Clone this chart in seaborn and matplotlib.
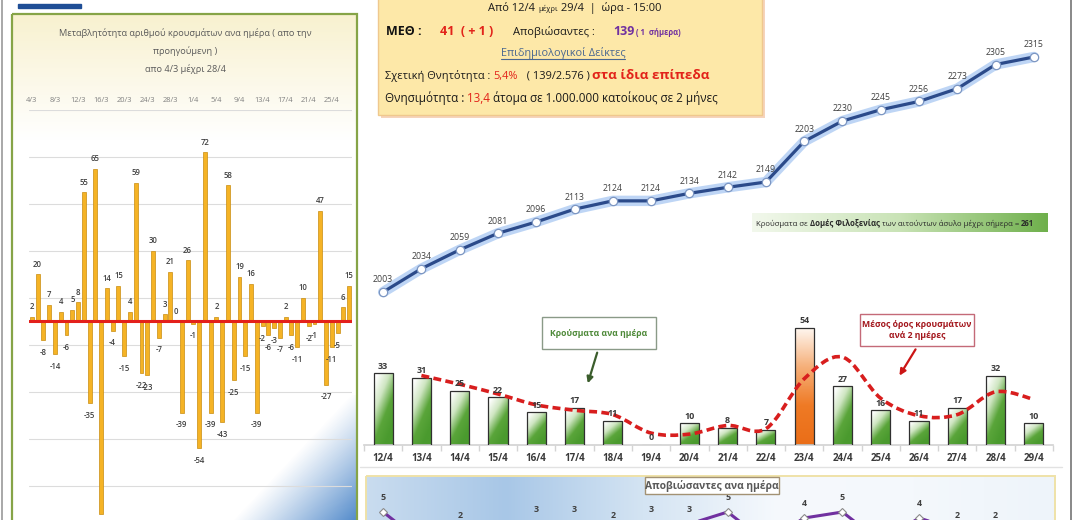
import numpy as np
import pandas as pd
import matplotlib
matplotlib.use("Agg")
import matplotlib.pyplot as plt
import seaborn as sns
from matplotlib.patches import Rectangle, PathPatch
from matplotlib.path import Path
from matplotlib.colors import LinearSegmentedColormap

# ---------------- data ----------------
var_dates = [f"{d}/3" for d in range(4, 32)] + [f"{d}/4" for d in range(1, 29)]
var_values = [2, 20, -8, 7, -14, 4, -6, 5, 8, 55, -35, 65, -82, 14, -4, 15, -15, 4, 59, -22,
              -23, 30, -7, 3, 21, 0, -39, 26, -1, -54, 72, -39, 2, -43, 58, -25, 19, -15, 16, -39,
              -2, -6, -3, -7, 2, -6, -11, 10, -2, -1, 47, -27, -11, -5, 6, 15]

days = ["12/4", "13/4", "14/4", "15/4", "16/4", "17/4", "18/4", "19/4", "20/4",
        "21/4", "22/4", "23/4", "24/4", "25/4", "26/4", "27/4", "28/4", "29/4"]
cumulative = [2003, 2034, 2059, 2081, 2096, 2113, 2124, 2124, 2134, 2142, 2149, 2203,
              2230, 2245, 2256, 2273, 2305, 2315]
daily_cases = [33, 31, 25, 22, 15, 17, 11, 0, 10, 8, 7, 54, 27, 16, 11, 17, 32, 10]
avg_2days = [np.nan, 32, 28, 23.5, 18.5, 16, 14, 5.5, 5, 9, 7.5, 30.5, 40.5, 21.5, 13.5, 14, 24.5, 21]
deaths = [5, 0, 2, 1, 3, 3, 2, 3, 3, 5, 0, 4, 5, 0, 4, 2, 2, 1]
highlight_day = "23/4"

# ---------------- setup ----------------
W, H = 1075, 520
sns.set_theme(style="white")
plt.rcParams["font.family"] = ["Open Sans", "DejaVu Sans"]
fig = plt.figure(figsize=(W / 100, H / 100), dpi=100)
fig.patch.set_facecolor("white")


def px_ax(l, t, r, b, z=1):
    a = fig.add_axes([l / W, 1 - b / H, (r - l) / W, (b - t) / H], zorder=z)
    a.patch.set_alpha(0)
    return a


def gradient(ax, x0, y0, x1, y1, colors, mode="h", zorder=0, clip=None):
    n = 128
    xn = np.linspace(0, 1, n)[None, :] * np.ones((n, 1))
    yn = np.linspace(0, 1, n)[:, None] * np.ones((1, n))
    if mode == "h":
        t = xn
    elif mode == "v":
        t = yn
    else:
        t = np.clip(0.55 * xn + 0.8 * yn - 0.1, 0, 1)
    cmap = LinearSegmentedColormap.from_list("g", colors)
    im = ax.imshow(t, cmap=cmap, vmin=0, vmax=1, extent=(x0, x1, y1, y0), origin="upper",
                   aspect="auto", zorder=zorder, interpolation="bilinear")
    if clip is not None:
        im.set_clip_path(clip)
    return im


bg = px_ax(0, 0, W, H, 0)
bg.set_xlim(0, W); bg.set_ylim(H, 0); bg.axis("off")
fg = px_ax(0, 0, W, H, 10)
fg.set_xlim(0, W); fg.set_ylim(H, 0); fg.axis("off")


def visible_y(ax, x, y):
    """True if data point (x, y) of ax lands inside the figure."""
    disp = ax.transData.transform((x, y))
    return 4 <= disp[1] <= H - 4


# ---------------- left panel decoration ----------------
bg.add_patch(Rectangle((18, 4), 63, 4, color="#1f4e96", zorder=2))
bg.plot([1.5, 1.5], [0, H], color="#9a9a9a", lw=1.2, zorder=2)
gradient(bg, 12, 14, 357, 140, ["#f8f1cf", "#ffffff"], mode="v", zorder=0)
n = 128
xn = np.linspace(0, 1, n)[None, :]
yn = np.linspace(0, 1, n)[:, None]
alpha = np.clip((xn + yn - 0.95) / 1.05, 0, 1) ** 1.1
rgba = np.zeros((n, n, 4))
rgba[..., 0] = 0.24; rgba[..., 1] = 0.49; rgba[..., 2] = 0.77
rgba[..., 3] = alpha
bg.imshow(rgba, extent=(225, 357, 535, 395), origin="upper", aspect="auto", zorder=1,
          interpolation="bilinear")
bg.add_patch(Rectangle((12, 14), 345, 520, fill=False, ec="#86a447", lw=1.6, zorder=3))

title_lines = ["Μεταβλητότητα αριθμού κρουσμάτων ανα ημέρα ( απο την", "προηγούμενη )",
               "απο 4/3 μέχρι 28/4"]
for k, line in enumerate(title_lines):
    fg.text(185, 33 + 18 * k, line, ha="center", va="center", fontsize=6.6, color="#5a5a5a")

# ---------------- left bar chart ----------------
ax_l = px_ax(29, 110, 352, 532.5, 2)
sns.barplot(x=var_dates, y=var_values, ax=ax_l, color="#f5b325", edgecolor="#c98d10",
            linewidth=0.5, width=0.68, saturation=1, zorder=2)
ax_l.set_xlim(-0.5, len(var_dates) - 0.5)
ax_l.set_ylim(-90, 90)
ax_l.set_yticks(np.arange(-90, 91, 20))
ax_l.yaxis.grid(True, color="#dcdcdc", lw=0.8, zorder=0)
ax_l.set_axisbelow(True)
ax_l.tick_params(axis="y", left=False, labelleft=False)
ax_l.xaxis.tick_top()
ax_l.set_xticks(range(0, len(var_dates), 4))
ax_l.set_xticklabels(var_dates[::4])
ax_l.tick_params(axis="x", length=0, labelsize=5.4, labelcolor="#808080", pad=4)
ax_l.set_xlabel(""); ax_l.set_ylabel("")
for s in ax_l.spines.values():
    s.set_visible(False)
ax_l.axhline(0, color="#e3201b", lw=2.2, zorder=3)
for i, v in enumerate(var_values):
    off = 4.3 if v >= 0 else -5.2
    if visible_y(ax_l, i, v + off):
        ax_l.text(i, v + off, str(v), ha="center", va="center", fontsize=5.6,
                  color="#404040", fontweight="semibold", clip_on=False)

# ---------------- cumulative line ----------------
x_idx = np.arange(len(days))
ax_c = px_ax(364, 20, 1053, 300, 2)
df_c = pd.DataFrame({"i": x_idx, "v": cumulative})
sns.lineplot(data=df_c, x="i", y="v", ax=ax_c, color="#a8c8f2", lw=7.5, alpha=0.75)
sns.lineplot(data=df_c, x="i", y="v", ax=ax_c, color="#2b4a8a", lw=2.3, marker="o",
             markersize=6, markerfacecolor="white", markeredgecolor="#7c96c2",
             markeredgewidth=0.9)
ax_c.set_xlim(-0.5, len(days) - 0.5)
ax_c.set_ylim(1992.4, 2364.1)
ax_c.axis("off")
for i, v in enumerate(cumulative):
    ax_c.text(i, v + 16, str(v), ha="center", va="center", fontsize=6.3, color="#404040")

# ---------------- daily bars ----------------
ax_b = px_ax(364, 300, 1053, 445, 2)
sns.barplot(x=days, y=daily_cases, ax=ax_b, color="#5aa53a", width=0.5, saturation=1,
            edgecolor="#303030", linewidth=0.9)
green_cm = ["#ffffff", "#cfe6c2", "#5aa53a", "#4a9a2e"]
orange_cm = ["#fff8f2", "#f6b07a", "#ef7a25", "#ea6e18"]
for p, d in zip(ax_b.patches, days):
    if p.get_height() <= 0:
        continue
    x, y, w, h = p.get_x(), p.get_y(), p.get_width(), p.get_height()
    if d == highlight_day:
        gradient(ax_b, x, y + h, x + w, y, orange_cm, mode="v", zorder=2, clip=p)
    else:
        gradient(ax_b, x, y + h, x + w, y, green_cm, mode="d", zorder=2, clip=p)
    p.set_facecolor("none")
    p.set_zorder(3)
ax_b.set_xlim(-0.5, len(days) - 0.5)
ax_b.set_ylim(0, 66.8)
ax_b.set_xlabel(""); ax_b.set_ylabel("")
ax_b.set_yticks([])
for k in ["top", "right", "left"]:
    ax_b.spines[k].set_visible(False)
ax_b.spines["bottom"].set_color("#d4d4d4")
ax_b.set_xticks(range(len(days)))
ax_b.set_xticklabels(days, fontweight="bold")
ax_b.set_xticks(np.arange(-0.5, len(days), 1), minor=True)
ax_b.tick_params(axis="x", which="major", length=0, labelsize=7, labelcolor="#3a3a3a", pad=6)
ax_b.tick_params(axis="x", which="minor", length=4, color="#d4d4d4", direction="out", bottom=True)
for i, v in enumerate(daily_cases):
    ax_b.text(i, v + 3.3, str(v), ha="center", va="center", fontsize=6.4,
              fontweight="bold", color="#3a3a3a", zorder=5)


def smooth_path(xs, ys):
    P = np.column_stack([xs, ys]).astype(float)
    verts = [P[0]]
    codes = [Path.MOVETO]
    for i in range(len(P) - 1):
        p0 = P[i - 1] if i > 0 else P[i]
        p1, p2 = P[i], P[i + 1]
        p3 = P[i + 2] if i + 2 < len(P) else P[i + 1]
        verts += [p1 + (p2 - p0) / 6, p2 - (p3 - p1) / 6, p2]
        codes += [Path.CURVE4] * 3
    return Path(verts, codes)


avg_arr = np.array(avg_2days, dtype=float)
ok = ~np.isnan(avg_arr)
ax_b.add_patch(PathPatch(smooth_path(x_idx[ok], avg_arr[ok]), fill=False, ec="#d81e1e",
                         lw=2.6, ls=(0, (2.2, 1.2)), zorder=4, capstyle="butt"))

# annotation boxes
fg.add_patch(Rectangle((542, 317), 114, 32, fc="white", ec="#8a9a88", lw=1))
fg.text(599, 333, "Κρούσματα ανα ημέρα", ha="center", va="center", fontsize=6.2,
        fontweight="bold", color="#4f8a3a")
fg.annotate("", xy=(587, 386), xytext=(598, 350),
            arrowprops=dict(arrowstyle="-|>", color="#3b5d2c", lw=1.6, mutation_scale=9))
fg.add_patch(Rectangle((860, 314), 114, 32, fc="white", ec="#c46a78", lw=1))
fg.text(917, 330, "Μέσος όρος κρουσμάτων\nανά 2 ημέρες", ha="center", va="center",
        fontsize=6.2, fontweight="bold", color="#a3161c", linespacing=1.35)
fg.annotate("", xy=(898, 378), xytext=(917, 347),
            arrowprops=dict(arrowstyle="-|>", color="#cc1515", lw=1.6, mutation_scale=9))

# separator + frame
bg.plot([360, 1062], [467, 467], color="#e2e2e2", lw=1, zorder=1)
bg.plot([1071, 1071], [0, H], color="#7f7f7f", lw=1.3, zorder=1)

# ---------------- deaths panel ----------------
gradient(bg, 366, 476, 1055, 545,
         ["#c9dcef", "#a8c7e7", "#d4e4f3", "#f6f9fd", "#f4f8fc", "#eef4fa"], mode="h", zorder=1)
bg.add_patch(Rectangle((366, 476), 689, 70, fill=False, ec="#efe2a8", lw=1.4, zorder=2))
ax_d = px_ax(364, 500, 1053, 542, 3)
df_d = pd.DataFrame({"i": x_idx, "v": deaths})
sns.lineplot(data=df_d, x="i", y="v", ax=ax_d, color="#7030a0", lw=2.2, marker="D",
             markersize=4.5, markerfacecolor="white", markeredgecolor="#8a8a8a",
             markeredgewidth=0.8)
ax_d.set_xlim(-0.5, len(days) - 0.5)
ax_d.set_ylim(0, 7)
ax_d.axis("off")
for i, v in enumerate(deaths):
    if visible_y(ax_d, i, v + 2.35):
        ax_d.text(i, v + 2.35, str(v), ha="center", va="center", fontsize=6.4,
                  fontweight="bold", color="#404040", clip_on=False)
fg.add_patch(Rectangle((645, 477), 134, 17, fc="white", ec="#a39274", lw=1))
fg.text(712, 485.5, "Αποβιώσαντες ανα ημέρα", ha="center", va="center", fontsize=7.4,
        fontweight="bold", color="#595959")

# ---------------- info box ----------------
fg.add_patch(Rectangle((381, -2), 384, 120, fc="#f3c2a0", ec="none", alpha=0.7))
fg.add_patch(Rectangle((378, -4), 384, 119, fc="#fde8a8", ec="#efc88e", lw=1))
renderer = fig.canvas.get_renderer()


def chain(x, y, parts):
    for s, kw in parts:
        t = fg.text(x, y, s, ha="left", va="baseline", **kw)
        x += t.get_window_extent(renderer).width
    return x


def centered(cx, y, parts):
    texts = []
    total = 0
    for s, kw in parts:
        t = fg.text(0, y, s, ha="left", va="baseline", **kw)
        w = t.get_window_extent(renderer).width
        texts.append((t, w))
        total += w
    x = cx - total / 2
    for t, w in texts:
        t.set_x(x)
        x += w
    return cx - total / 2, cx + total / 2


blk = "#1a1a1a"
red = "#e2231a"
centered(575, 11, [("Από 12/4 ", dict(fontsize=8, color=blk)),
                   ("μέχρι", dict(fontsize=5.5, color=blk)),
                   (" 29/4  |  ώρα - 15:00", dict(fontsize=8, color=blk))])

chain(386, 35, [("ΜΕΘ :", dict(fontsize=9, fontweight="bold", color="#111111"))])
chain(440, 35, [("41  ( + 1 )", dict(fontsize=9, fontweight="bold", color=red))])
xa = chain(513, 35, [("Αποβιώσαντες : ", dict(fontsize=8, color=blk))])
chain(max(xa, 613), 35, [("139", dict(fontsize=9, fontweight="bold", color="#7030a0")),
                         (" ( 1  σήμερα)", dict(fontsize=5.5, fontweight="bold", color="#7030a0"))])

x0, x1 = centered(563, 56, [("Επιδημιολογικοί Δείκτες", dict(fontsize=7.8, color="#4a6790"))])
fg.plot([x0, x1], [59, 59], color="#4a6790", lw=0.8)

chain(385, 79, [("Σχετική Θνητότητα : ", dict(fontsize=7.9, color=blk)),
                ("5,4%", dict(fontsize=7.9, color=red)),
                ("   ( 139/2.576 ) ", dict(fontsize=7.9, color=blk)),
                ("στα ίδια επίπεδα", dict(fontsize=9.7, fontweight="bold", color=red))])

chain(385, 102, [("Θνησιμότητα : ", dict(fontsize=8.4, color=blk)),
                 ("13,4", dict(fontsize=8.4, color=red)),
                 (" άτομα σε 1.000.000 κατοίκους σε 2 μήνες", dict(fontsize=8.4, color=blk))])

# ---------------- green info strip ----------------
gradient(bg, 752, 213, 1048, 232, ["#f2f8ec", "#c9e3b6", "#6fb04c"], mode="h", zorder=1)
chain(756, 225.5, [("Κρούσματα σε ", dict(fontsize=5.6, color="#2a2a2a")),
                   ("Δομές Φιλοξενίας", dict(fontsize=5.6, fontweight="bold", color="#2a2a2a")),
                   (" των αιτούντων άσυλο μέχρι σήμερα = ", dict(fontsize=5.6, color="#2a2a2a")),
                   ("261", dict(fontsize=5.6, fontweight="bold", color="#2a2a2a"))])

fig.savefig("out.png", dpi=100)
